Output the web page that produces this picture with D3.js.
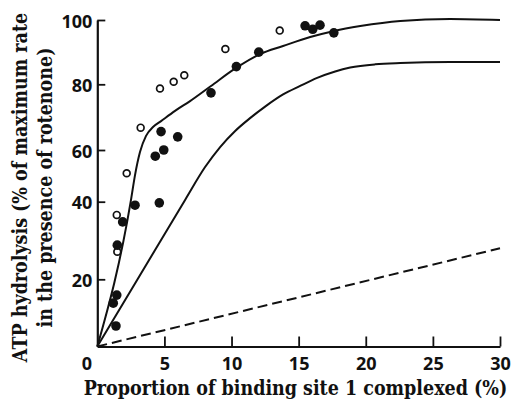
<!DOCTYPE html>
<html>
<head>
<meta charset="utf-8">
<script src="https://cdn.jsdelivr.net/npm/d3@7"></script>
<style>
  html, body { margin: 0; padding: 0; background: #fff; }
  svg { display: block; }
</style>
</head>
<body>
<svg id="chart" width="511" height="400"></svg>
<script>
// Tick values on each axis
const xTickValues = [0, 5, 10, 15, 20, 25, 30];
const yTickValues = [0, 20, 40, 60, 80, 100];

// Measurements without rotenone (open circles)
const openX = [1.45, 1.49, 2.19, 3.23, 4.67, 5.69, 6.48, 9.54, 13.59];
const openY = [36.6, 27.1, 51.0, 66.8, 78.7, 80.8, 82.8, 91.0, 96.7];

// Measurements with rotenone (filled circles)
const filledX = [1.39, 1.19, 1.45, 1.49, 1.89, 2.81, 4.62, 4.32, 4.95, 4.75, 5.99, 8.47, 10.36, 12.03, 15.48, 16.05, 16.59, 17.62];
const filledY = [6.1, 12.9, 15.3, 28.8, 34.8, 39.1, 39.7, 57.6, 60.0, 65.6, 64.0, 77.4, 85.5, 90.0, 98.2, 97.1, 98.4, 96.0];

// Upper theoretical curve
const upperX = [0, 2.51, 2.81, 3.18, 3.63, 4.15, 4.75, 5.79, 6.91, 8.47, 10.34, 12.13, 13.84, 15.86, 17.65, 19.59, 22.57, 26.29, 30];
const upperY = [0, 40.7, 50.3, 59.2, 64.3, 67.0, 68.8, 71.9, 74.9, 79.5, 85.1, 89.4, 91.9, 94.7, 96.6, 98.1, 99.7, 100.3, 100];

// Lower theoretical curve
const lowerX = [0, 3.0, 6.54, 8.03, 9.15, 10.27, 11.38, 12.50, 13.84, 15.11, 16.38, 17.72, 18.84, 20.7, 22.57, 26.29, 30];
const lowerY = [0, 20.0, 40.7, 53.4, 60.9, 65.8, 69.7, 73.2, 76.9, 79.5, 82.0, 84.0, 85.2, 86.2, 86.6, 86.9, 86.9];

// Straight dashed reference line
const dashX = [0, 30];
const dashY = [0, 28];

const svg = d3.select("#chart");

const x = d3.scaleLinear().domain([0, 30]).range([97.3, 500]);
// Vertical axis follows its printed tick positions
const y = d3.scaleLinear().domain(yTickValues).range([346.5, 279.3, 201.7, 150, 84.3, 20]);

const tickFont = "'Open Sans', 'Liberation Sans', sans-serif";
const titleFont = "'DejaVu Serif Condensed', 'DejaVu Serif', serif";

// Axes
const xAxis = svg.append("g")
  .attr("transform", `translate(0,${y(0)})`)
  .call(d3.axisBottom(x).tickValues(xTickValues).tickSize(-10).tickSizeOuter(0).tickPadding(10.5));

const yAxis = svg.append("g")
  .attr("transform", `translate(${x(0)},0)`)
  .call(d3.axisLeft(y).tickValues(yTickValues.filter(v => v > 0)).tickSize(-8).tickSizeOuter(0).tickPadding(5));

[xAxis, yAxis].forEach(g => {
  g.select(".domain").attr("stroke", "#111").attr("stroke-width", 2.2);
  g.selectAll(".tick line").attr("stroke", "#111").attr("stroke-width", 1.8);
  g.selectAll(".tick text")
    .attr("fill", "#111")
    .style("font-family", tickFont)
    .style("font-weight", 700)
    .style("font-size", "18px");
});
yAxis.selectAll(".tick text").attr("dy", 7);
// origin label sits a little left of the corner
xAxis.selectAll(".tick").filter(d => d === 0).select("text").attr("x", -11);
xAxis.selectAll(".tick").filter(d => d === 0).select("line").remove();

// Lines
const lineGen = d3.line().x(d => x(d[0])).y(d => y(d[1])).curve(d3.curveMonotoneX);

svg.append("path")
  .datum(upperX.map((v, i) => [v, upperY[i]]))
  .attr("d", lineGen)
  .attr("fill", "none").attr("stroke", "#111").attr("stroke-width", 2);

svg.append("path")
  .datum(lowerX.map((v, i) => [v, lowerY[i]]))
  .attr("d", lineGen)
  .attr("fill", "none").attr("stroke", "#111").attr("stroke-width", 2);

svg.append("path")
  .datum(dashX.map((v, i) => [v, dashY[i]]))
  .attr("d", d3.line().x(d => x(d[0])).y(d => y(d[1])))
  .attr("fill", "none").attr("stroke", "#111").attr("stroke-width", 2)
  .attr("stroke-dasharray", "10,5");

// Points
svg.append("g").selectAll("circle")
  .data(openX.map((v, i) => [v, openY[i]]))
  .join("circle")
  .attr("cx", d => x(d[0])).attr("cy", d => y(d[1]))
  .attr("r", 3.4)
  .attr("fill", "#fff").attr("stroke", "#111").attr("stroke-width", 1.7);

svg.append("g").selectAll("circle")
  .data(filledX.map((v, i) => [v, filledY[i]]))
  .join("circle")
  .attr("cx", d => x(d[0])).attr("cy", d => y(d[1]))
  .attr("r", 4.8)
  .attr("fill", "#111");

// Axis titles
function fitWidth(sel, target) {
  const w = sel.node().getComputedTextLength();
  const fs = parseFloat(sel.style("font-size"));
  sel.style("font-size", (fs * target / w) + "px");
  return fs * target / w;
}

const xTitle = svg.append("text")
  .attr("x", 295.5).attr("y", 395)
  .attr("text-anchor", "middle")
  .style("font-family", titleFont).style("font-weight", 700).style("font-size", "18px")
  .attr("fill", "#111")
  .text("Proportion of binding site 1 complexed (%)");
const titleSize = fitWidth(xTitle, 424);

const yTitle = svg.append("g").attr("transform", "translate(0,187.5) rotate(-90)");
yTitle.append("text")
  .attr("x", 0).attr("y", 26.7)
  .attr("text-anchor", "middle")
  .style("font-family", titleFont).style("font-weight", 700).style("font-size", titleSize + "px")
  .attr("fill", "#111")
  .text("ATP hydrolysis (% of maximum rate");
yTitle.append("text")
  .attr("x", 0).attr("y", 51.7)
  .attr("text-anchor", "middle")
  .style("font-family", titleFont).style("font-weight", 700).style("font-size", titleSize + "px")
  .attr("fill", "#111")
  .text("in the presence of rotenone)");
</script>
</body>
</html>
